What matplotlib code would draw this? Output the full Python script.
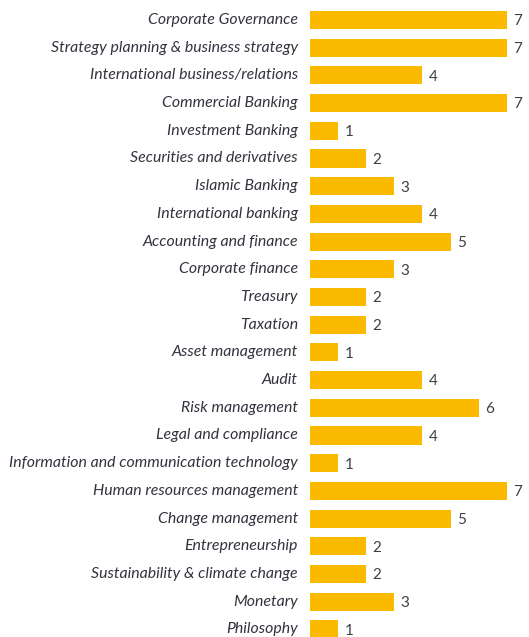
import matplotlib
matplotlib.use("Agg")
import matplotlib.pyplot as plt

# skills and number of board members
skills = ["Corporate Governance", "Strategy planning & business strategy",
          "International business/relations", "Commercial Banking",
          "Investment Banking", "Securities and derivatives", "Islamic Banking",
          "International banking", "Accounting and finance", "Corporate finance",
          "Treasury", "Taxation", "Asset management", "Audit", "Risk management",
          "Legal and compliance", "Information and communication technology",
          "Human resources management", "Change management", "Entrepreneurship",
          "Sustainability & climate change", "Monetary", "Philosophy"]
counts = [7, 7, 4, 7, 1, 2, 3, 4, 5, 3, 2, 2, 1, 4, 6, 4, 1, 7, 5, 2, 2, 3, 1]

W, H = 529, 637
fig = plt.figure(figsize=(W / 100, H / 100), dpi=100)
ax = fig.add_axes([0, 0, 1, 1])

x0 = 310.0      # pixel of bar start
unit = 28.1     # pixels per count
y0 = 20.0       # pixel of first bar centre
step = 27.7     # pixels between bars

ypos = list(range(len(skills)))
ax.barh(ypos, counts, height=0.65, color="#FBBA00", edgecolor="none")

for i in ypos:
    ax.text(-0.43, i, skills[i], ha="right", va="center", fontsize=11.4,
            style="italic", family="Lato", color="#33333f")
    ax.text(counts[i] + 0.22, i + 0.05, str(counts[i]), ha="left", va="center",
            fontsize=11, family="Lato", color="#404040")

ax.set_xlim(-x0 / unit, (W - x0) / unit)
ax.set_ylim((H - y0) / step, -y0 / step)
ax.axis("off")

fig.savefig("out.png", dpi=100)
